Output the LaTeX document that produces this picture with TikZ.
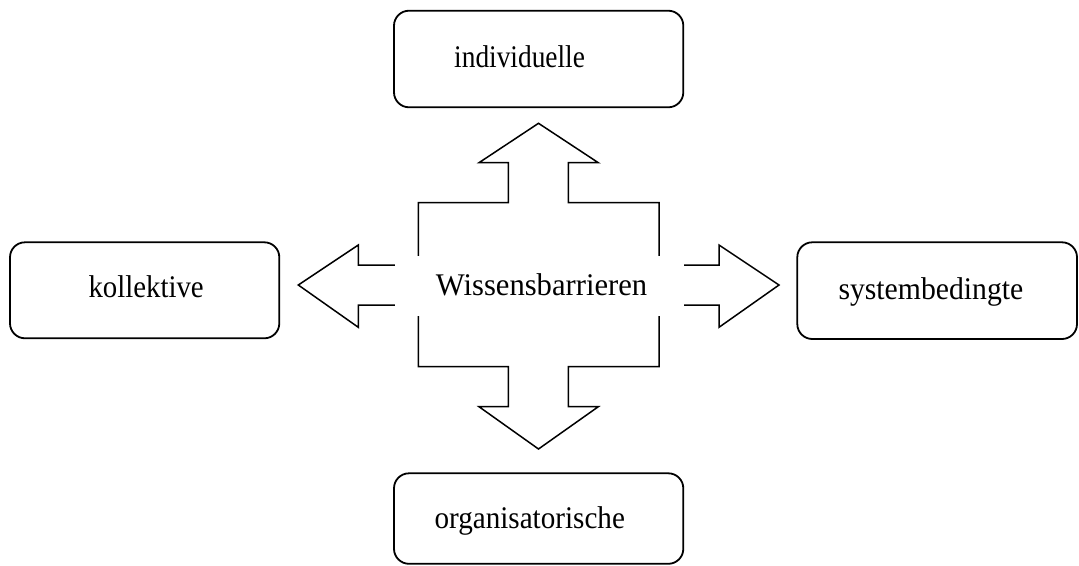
\documentclass[tikz,border=0pt]{standalone}
\usepackage{graphicx}
\usepackage{fontspec}
\setmainfont{Liberation Serif}
% condensed label text: \cond{x-factor}{text}
\newcommand{\cond}[2]{\scalebox{#1}[1]{#2}}
\begin{document}
\begin{tikzpicture}[x=1pt,y=-1pt,
  box/.style={draw=black,line width=1.8pt,rounded corners=15pt},
  lbl/.style={inner sep=0pt,anchor=base west,font=\fontsize{31.5}{36}\selectfont},
  quad/.style={draw=black,line width=1.5pt,line join=miter}]
\useasboundingbox (0,0) rectangle (1079,565);

% four category boxes
\draw[box] (394,10.7) rectangle (683.3,107.3);
\draw[box] (10,242.3) rectangle (279.3,338.3);
\draw[box] (797.3,242.3) rectangle (1077,339);
\draw[box] (394,473.3) rectangle (683.3,563.8);

\node[lbl] (ind) at (454,67.3) {\cond{0.869}{individuelle}};
\node[lbl] (kol) at (88.3,297.3) {\cond{0.915}{kollektive}};
\node[lbl] (sys) at (838.3,299.3) {\cond{0.943}{systembedingte}};
\node[lbl] (org) at (434.3,528.3) {\cond{0.925}{organisatorische}};

% four-way block arrow
\draw[quad]
  (538.5,123.3) -- (598.3,162.7) -- (568.3,162.7) -- (568.3,202.7)
  -- (659,202.7) -- (659,265) -- (719,265) -- (719,245)
  -- (779,285) -- (719,327.3) -- (719,305) -- (659,305)
  -- (659,366.7) -- (568.3,366.7) -- (568.3,406.7) -- (598.3,406.7)
  -- (538.5,449) -- (479,406.7) -- (508.3,406.7) -- (508.3,366.7)
  -- (418.3,366.7) -- (418.3,305) -- (358.3,305) -- (358.3,327.3)
  -- (298.3,285) -- (358.3,245) -- (358.3,265) -- (418.3,265)
  -- (418.3,202.7) -- (508.3,202.7) -- (508.3,162.7) -- (479,162.7)
  -- cycle;

% centre label on a white field over the arrow
\fill[white] (395,255.7) rectangle (684.3,315.7);
\node[lbl] (wb) at (435.7,295) {\cond{0.972}{Wissensbarrieren}};
\end{tikzpicture}
\end{document}
